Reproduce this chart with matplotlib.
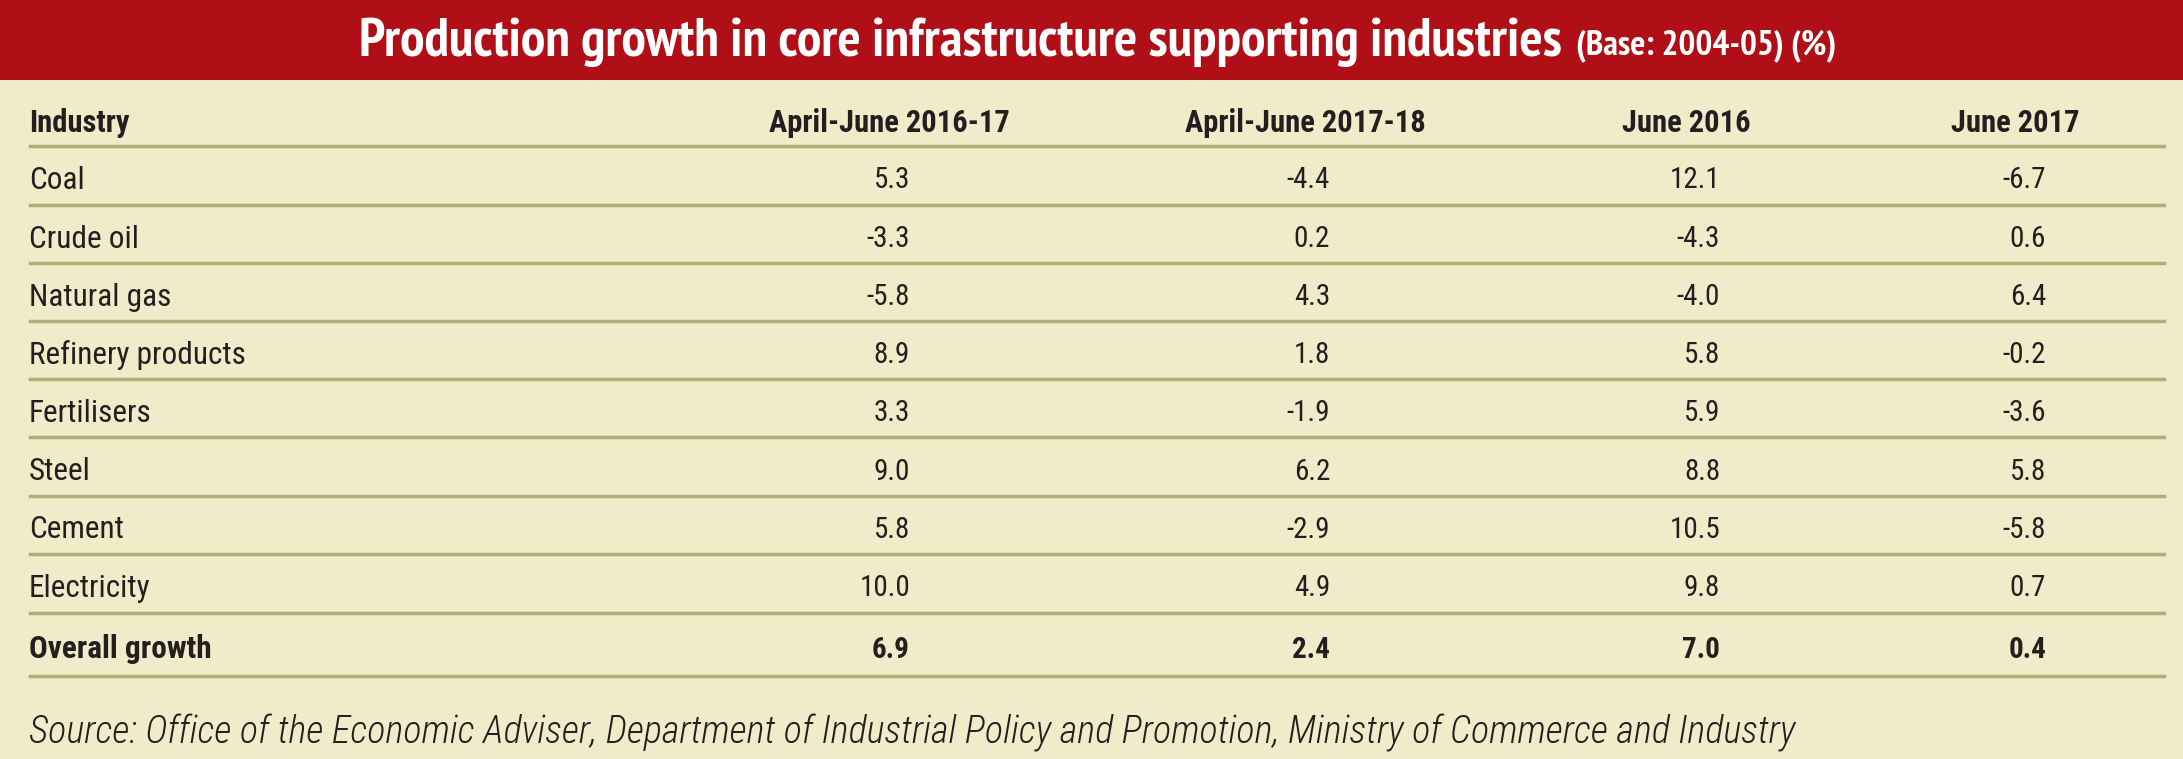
import matplotlib
matplotlib.use("Agg")
import matplotlib.pyplot as plt

# table data
columns = ["April-June 2016-17", "April-June 2017-18", "June 2016", "June 2017"]
industries = ["Coal", "Crude oil", "Natural gas", "Refinery products", "Fertilisers",
              "Steel", "Cement", "Electricity", "Overall growth"]
apr_jun_1617 = ["5.3", "-3.3", "-5.8", "8.9", "3.3", "9.0", "5.8", "10.0", "6.9"]
apr_jun_1718 = ["-4.4", "0.2", "4.3", "1.8", "-1.9", "6.2", "-2.9", "4.9", "2.4"]
jun_2016 = ["12.1", "-4.3", "-4.0", "5.8", "5.9", "8.8", "10.5", "9.8", "7.0"]
jun_2017 = ["-6.7", "0.6", "6.4", "-0.2", "-3.6", "5.8", "-5.8", "0.7", "0.4"]

title = "Production growth in core infrastructure supporting industries"
subtitle = "(Base: 2004-05) (%)"
source = ("Source: Office of the Economic Adviser, Department of Industrial Policy "
          "and Promotion, Ministry of Commerce and Industry")

RED = "#B00F17"
CREAM = "#F0EBC8"
RULE = "#B3AD7C"
INK = "#231F20"
FONT = ["Roboto Condensed", "Archivo Narrow", "DejaVu Sans"]
TFONT = ["PT Sans Narrow", "Open Sans Condensed", "Archivo Narrow", "DejaVu Sans"]

W, H = 2183, 759
fig = plt.figure(figsize=(W / 100, H / 100), dpi=100)
fig.patch.set_facecolor(CREAM)
ax = fig.add_axes([0, 0, 1, 1])
ax.set_xlim(0, W)
ax.set_ylim(H, 0)
ax.axis("off")

# title band
ax.add_patch(plt.Rectangle((0, 0), W, 80, color=RED, lw=0))
t1 = ax.text(359, 42, title, color="white", fontsize=39.5, fontweight="bold",
             family=TFONT, ha="left", va="center")
fig.canvas.draw()
bb = t1.get_window_extent().transformed(ax.transData.inverted())
ax.text(bb.x1 + 14, 46, subtitle, color="white", fontsize=25.5, fontweight="bold",
        family=TFONT, ha="left", va="center")

x_left, x_right = 30, 2164
col_right = [910, 1330, 1720, 2046]
col_center = [889, 1305, 1686, 2015]
values = [apr_jun_1617, apr_jun_1718, jun_2016, jun_2017]

# header
ax.text(29, 123, "Industry", color=INK, fontsize=22, fontweight="bold",
        family=FONT, ha="left", va="center")
for cx, name in zip(col_center, columns):
    ax.text(cx, 123, name, color=INK, fontsize=22, fontweight="bold",
            family=FONT, ha="center", va="center")
ax.plot([x_left, x_right], [146, 146], color=RULE, lw=2.5)

row_lines = [205, 263, 321, 379, 437, 496, 554, 613, 676]
top = 146
for i, name in enumerate(industries):
    bottom = row_lines[i]
    yc = (top + bottom) / 2 + 5
    last = i == len(industries) - 1
    wt = "bold" if last else "normal"
    ax.text(29, yc, name, color=INK, fontsize=22.5, fontweight=wt,
            family=FONT, ha="left", va="center")
    for xr, col in zip(col_right, values):
        ax.text(xr, yc, col[i], color=INK, fontsize=21, fontweight=wt,
                family=FONT, ha="right", va="center")
    ax.plot([x_left, x_right], [bottom, bottom], color=RULE, lw=2.5)
    top = bottom

ax.text(29, 733, source, color=INK, fontsize=27.5, style="italic", fontweight="light",
        family=FONT, ha="left", va="center")

fig.savefig("out.png", dpi=100, facecolor=CREAM)
